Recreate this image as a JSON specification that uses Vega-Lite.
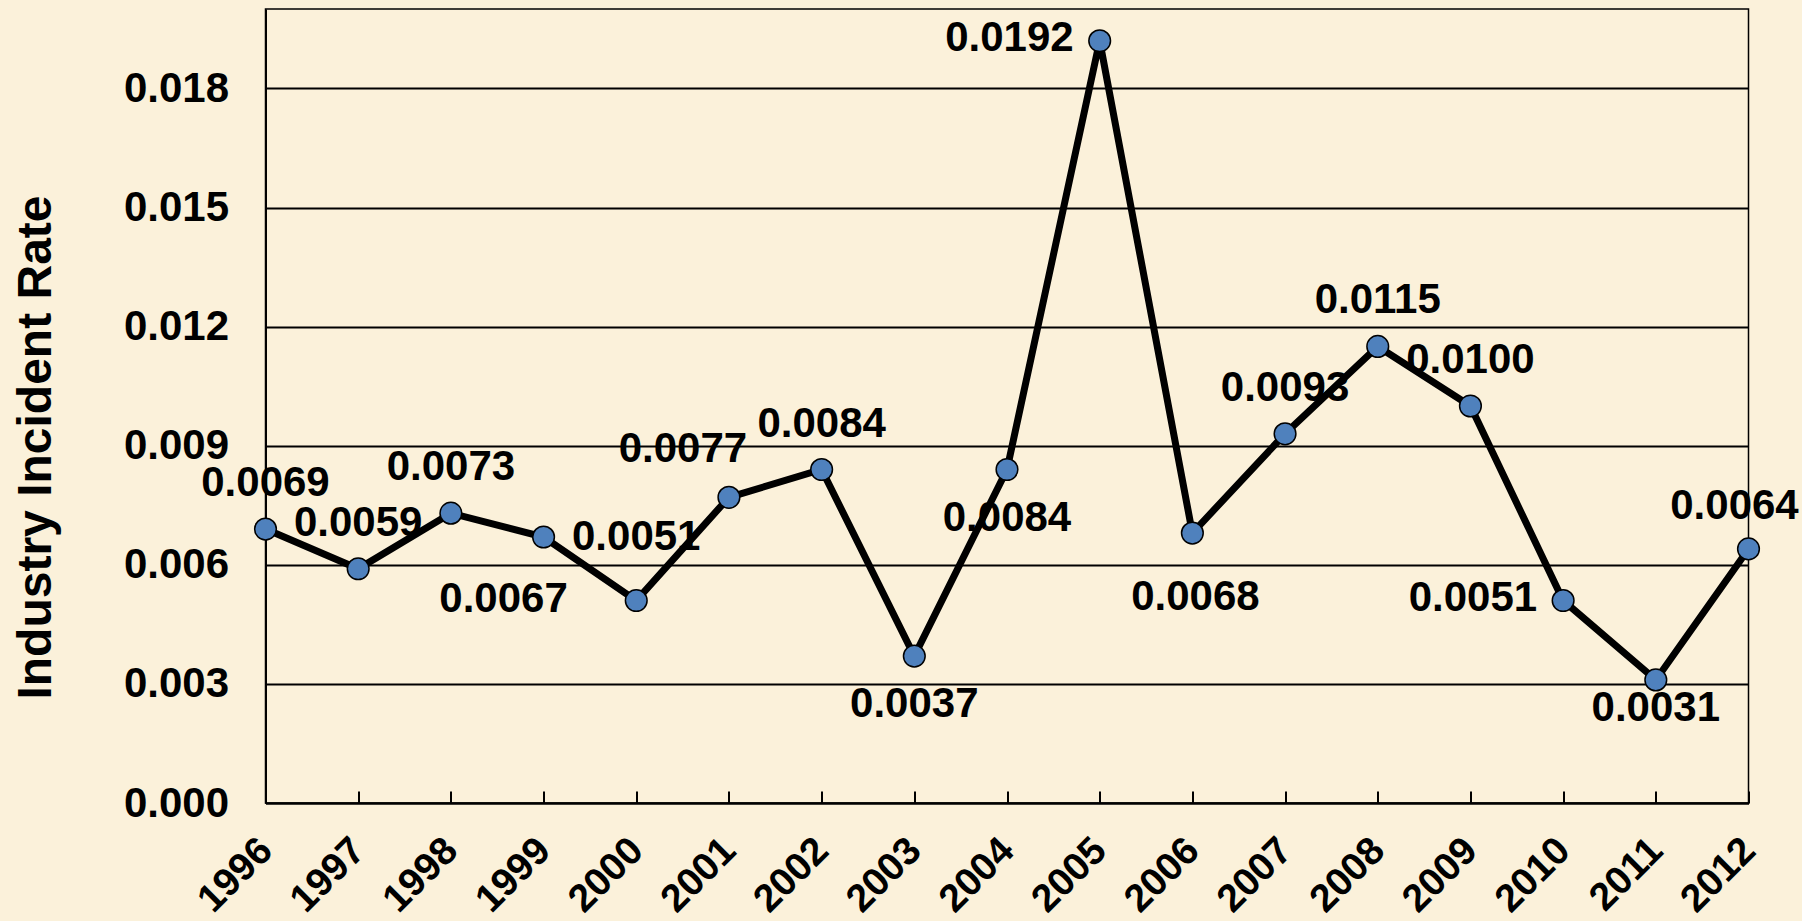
{
  "$schema": "https://vega.github.io/schema/vega-lite/v6.json",
  "width": 1483,
  "height": 794,
  "autosize": "none",
  "padding": {"left": 265.5, "top": 9, "right": 53.5, "bottom": 118},
  "background": "#FBF1DA",
  "config": {
    "view": {"stroke": "black", "strokeWidth": 1.5},
    "font": "Liberation Sans"
  },
  "data": {
    "values": [
      {"year": "1996", "rate": 0.0069, "pos": "above"},
      {"year": "1997", "rate": 0.0059, "pos": "above"},
      {"year": "1998", "rate": 0.0073, "pos": "above"},
      {"year": "1999", "rate": 0.0067, "pos": "downleft"},
      {"year": "2000", "rate": 0.0051, "pos": "high"},
      {"year": "2001", "rate": 0.0077, "pos": "upleft"},
      {"year": "2002", "rate": 0.0084, "pos": "above"},
      {"year": "2003", "rate": 0.0037, "pos": "below"},
      {"year": "2004", "rate": 0.0084, "pos": "below"},
      {"year": "2005", "rate": 0.0192, "pos": "left"},
      {"year": "2006", "rate": 0.0068, "pos": "low"},
      {"year": "2007", "rate": 0.0093, "pos": "above"},
      {"year": "2008", "rate": 0.0115, "pos": "above"},
      {"year": "2009", "rate": 0.0100, "pos": "above"},
      {"year": "2010", "rate": 0.0051, "pos": "left"},
      {"year": "2011", "rate": 0.0031, "pos": "under"},
      {"year": "2012", "rate": 0.0064, "pos": "upnear"}
    ]
  },
  "encoding": {
    "x": {
      "field": "year",
      "type": "ordinal",
      "sort": null,
      "scale": {"type": "point", "padding": 0},
      "axis": {
        "title": null,
        "labelAngle": -45,
        "labelAlign": "right",
        "labelBaseline": "middle",
        "labelFontSize": 39,
        "labelFontWeight": "bold",
        "labelColor": "black",
        "labelPadding": 53,
        "labelOverlap": false,
        "labelFlush": false,
        "tickSize": -12,
        "tickColor": "black",
        "tickWidth": 2,
        "domainColor": "black",
        "domainWidth": 2,
        "grid": false
      }
    },
    "y": {
      "field": "rate",
      "type": "quantitative",
      "scale": {"domain": [0, 0.02], "nice": false, "zero": true},
      "axis": {
        "values": [0, 0.003, 0.006, 0.009, 0.012, 0.015, 0.018],
        "format": ".3f",
        "labelFontSize": 42,
        "labelFontWeight": "bold",
        "labelColor": "black",
        "labelPadding": 37,
        "ticks": false,
        "domainColor": "black",
        "domainWidth": 2,
        "grid": true,
        "gridColor": "black",
        "gridWidth": 2,
        "gridOpacity": 1,
        "title": "Industry Incident Rate",
        "titleFontSize": 48,
        "titleFontWeight": "bold",
        "titleColor": "black",
        "titleAngle": 270,
        "titleBaseline": "alphabetic",
        "titleX": -215,
        "titleY": 438
      }
    }
  },
  "layer": [
    {"mark": {"type": "line", "color": "black", "strokeWidth": 7}},
    {"mark": {"type": "circle", "fill": "#4F81BD", "stroke": "black", "strokeWidth": 1.5, "size": 470, "opacity": 1}},
    {
      "transform": [{"filter": "datum.pos == 'above'"}],
      "mark": {"type": "text", "fontSize": 42, "fontWeight": "bold", "color": "black", "dy": -46},
      "encoding": {"text": {"field": "rate", "format": ".4f"}}
    },
    {
      "transform": [{"filter": "datum.pos == 'high'"}],
      "mark": {"type": "text", "fontSize": 42, "fontWeight": "bold", "color": "black", "dy": -64},
      "encoding": {"text": {"field": "rate", "format": ".4f"}}
    },
    {
      "transform": [{"filter": "datum.pos == 'upleft'"}],
      "mark": {"type": "text", "fontSize": 42, "fontWeight": "bold", "color": "black", "dx": -46, "dy": -48},
      "encoding": {"text": {"field": "rate", "format": ".4f"}}
    },
    {
      "transform": [{"filter": "datum.pos == 'upnear'"}],
      "mark": {"type": "text", "fontSize": 42, "fontWeight": "bold", "color": "black", "dx": -14, "dy": -43},
      "encoding": {"text": {"field": "rate", "format": ".4f"}}
    },
    {
      "transform": [{"filter": "datum.pos == 'downleft'"}],
      "mark": {"type": "text", "fontSize": 42, "fontWeight": "bold", "color": "black", "dx": -40, "dy": 62},
      "encoding": {"text": {"field": "rate", "format": ".4f"}}
    },
    {
      "transform": [{"filter": "datum.pos == 'below'"}],
      "mark": {"type": "text", "fontSize": 42, "fontWeight": "bold", "color": "black", "dy": 48},
      "encoding": {"text": {"field": "rate", "format": ".4f"}}
    },
    {
      "transform": [{"filter": "datum.pos == 'low'"}],
      "mark": {"type": "text", "fontSize": 42, "fontWeight": "bold", "color": "black", "dx": 3, "dy": 64},
      "encoding": {"text": {"field": "rate", "format": ".4f"}}
    },
    {
      "transform": [{"filter": "datum.pos == 'under'"}],
      "mark": {"type": "text", "fontSize": 42, "fontWeight": "bold", "color": "black", "dy": 28},
      "encoding": {"text": {"field": "rate", "format": ".4f"}}
    },
    {
      "transform": [{"filter": "datum.pos == 'left'"}],
      "mark": {"type": "text", "fontSize": 42, "fontWeight": "bold", "color": "black", "align": "right", "dx": -26, "dy": -3},
      "encoding": {"text": {"field": "rate", "format": ".4f"}}
    }
  ]
}
